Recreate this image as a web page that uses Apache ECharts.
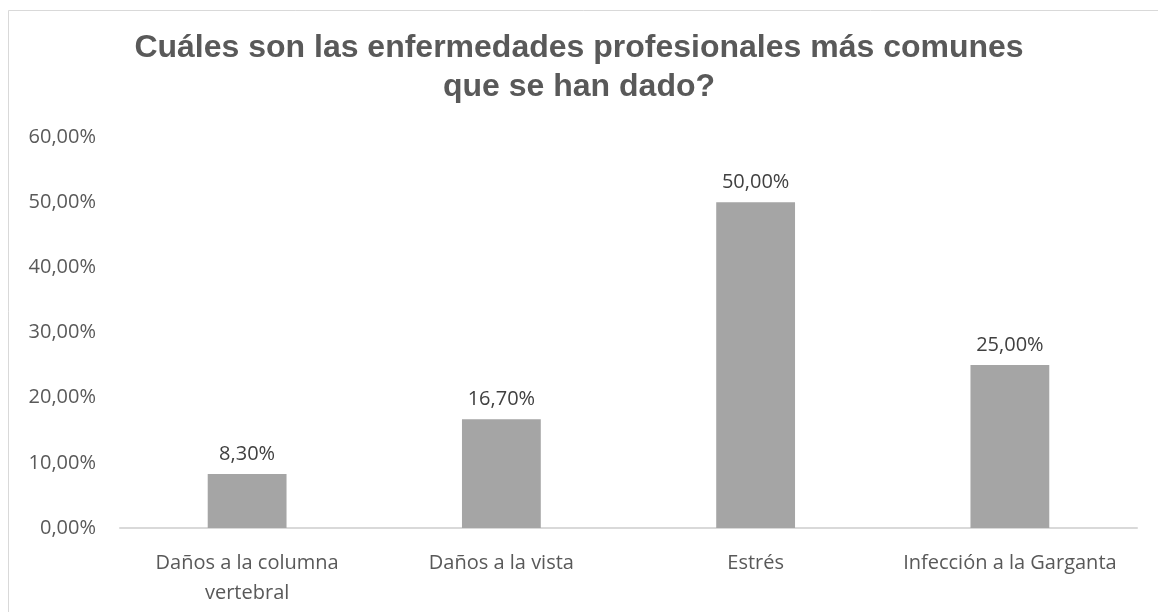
<!DOCTYPE html>
<html>
<head>
<meta charset="utf-8">
<script src="https://cdn.jsdelivr.net/npm/echarts@6/dist/echarts.min.js"></script>
<style>html,body{margin:0;padding:0;background:#fff}#c{width:1158px;height:612px}</style>
</head>
<body>
<div id="c"></div>
<script>
const categories = ['Daños a la columna\nvertebral', 'Daños a la vista', 'Estrés', 'Infección a la Garganta'];
const values = [8.3, 16.7, 50.0, 25.0];
const titleText = 'Cuáles son las enfermedades profesionales más comunes\nque se han dado?';
const yMin = 0, yMax = 60, yStep = 10;

const fmt = v => v.toFixed(2).replace('.', ',') + '%';
const chart = echarts.init(document.getElementById('c'), null, {renderer: 'canvas'});
chart.setOption({
  animation: false,
  backgroundColor: '#ffffff',
  title: {
    text: titleText,
    left: 'center',
    top: 24,
    padding: [5, 0, 5, 14],
    textStyle: {fontFamily: 'Liberation Sans', fontWeight: 'bold', fontSize: 32, color: '#595959', lineHeight: 39}
  },
  graphic: [
    {type: 'line', shape: {x1: 8.5, y1: 10.5, x2: 1158, y2: 10.5}, style: {stroke: '#d9d9d9', lineWidth: 1}},
    {type: 'line', shape: {x1: 8.5, y1: 10.5, x2: 8.5, y2: 612}, style: {stroke: '#d9d9d9', lineWidth: 1}}
  ],
  grid: {left: 120, right: 21, top: 137, bottom: 84, containLabel: false},
  xAxis: {
    type: 'category',
    data: categories,
    axisLine: {lineStyle: {color: '#d9d9d9', width: 2}},
    axisTick: {show: false},
    axisLabel: {fontFamily: 'Open Sans', fontSize: 20, color: '#595959', margin: 20, lineHeight: 30, interval: 0}
  },
  yAxis: {
    type: 'value',
    min: yMin, max: yMax, interval: yStep,
    axisLine: {show: false},
    axisTick: {show: false},
    splitLine: {show: false},
    axisLabel: {fontFamily: 'Open Sans', fontSize: 20, color: '#595959', margin: 24, formatter: fmt}
  },
  series: [{
    type: 'bar',
    data: values,
    barWidth: '31%',
    itemStyle: {color: '#a5a5a5'},
    label: {show: true, position: 'top', distance: 10, fontFamily: 'Open Sans', fontSize: 20, color: '#404040', formatter: p => fmt(p.value)}
  }]
});
</script>
</body>
</html>
